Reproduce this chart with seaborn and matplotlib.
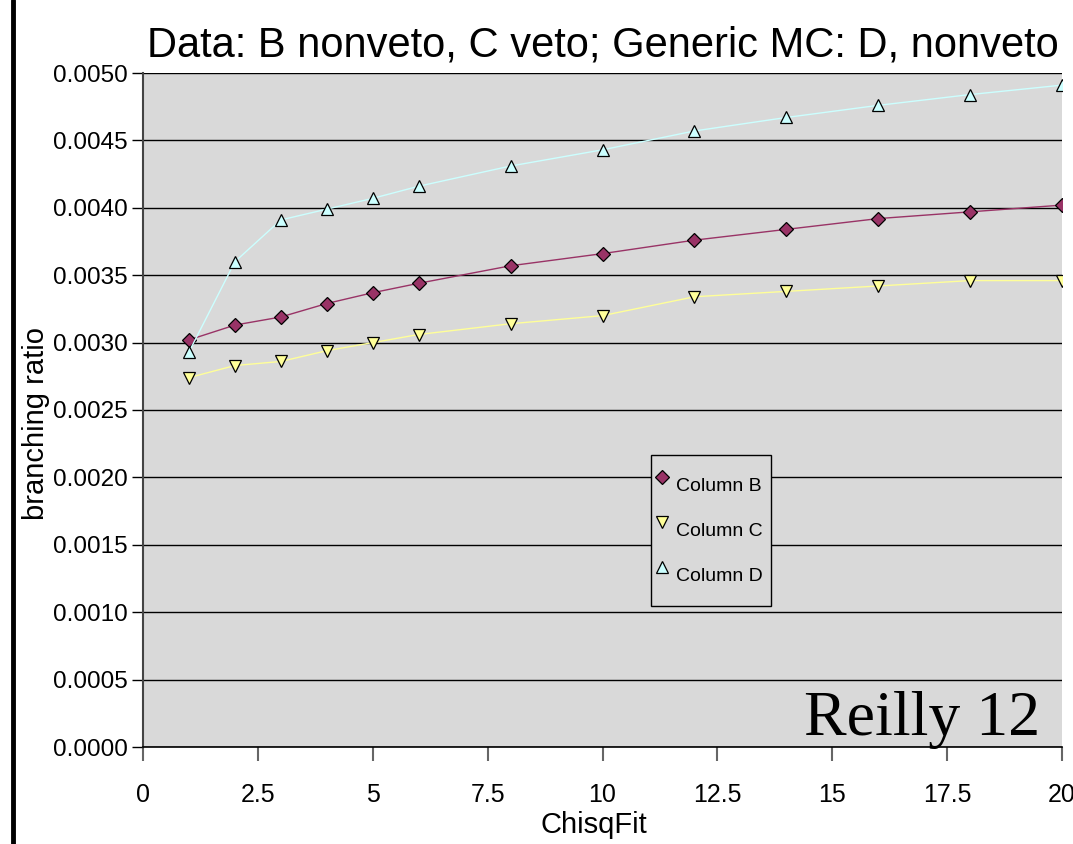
import matplotlib
matplotlib.use("Agg")
import matplotlib.pyplot as plt
import seaborn as sns
import numpy as np
import pandas as pd
from matplotlib.lines import Line2D
from matplotlib.ticker import FormatStrFormatter, MultipleLocator

chisq = [1, 2, 3, 4, 5, 6, 8, 10, 12, 14, 16, 18, 20]
col_b = [0.00302, 0.00313, 0.00319, 0.00329, 0.00337, 0.00344, 0.00357, 0.00366, 0.00376, 0.00384, 0.00392, 0.00397, 0.00402]
col_c = [0.00274, 0.00283, 0.00286, 0.00294, 0.00300, 0.00306, 0.00314, 0.00320, 0.00334, 0.00338, 0.00342, 0.00346, 0.00346]
col_d = [0.00293, 0.00360, 0.00391, 0.00399, 0.00407, 0.00416, 0.00431, 0.00443, 0.00457, 0.00467, 0.00476, 0.00484, 0.00491]
series_names = ["Column B", "Column C", "Column D"]

sns.set_style("white")
plt.rcParams["font.family"] = ["Liberation Sans", "DejaVu Sans"]
plt.rcParams["text.color"] = "black"
plt.rcParams["axes.labelcolor"] = "black"

fig = plt.figure(figsize=(10.73, 8.44), dpi=100)
ax = fig.add_axes([143/1073, 1-747/844, (1062-143)/1073, (747-73)/844])
ax.set_facecolor("#d9d9d9")

styles = {
    "Column B": dict(marker="D", color="#993366", mfc="#993366", ms=7.5),
    "Column C": dict(marker="v", color="#ffff99", mfc="#ffff99", ms=9),
    "Column D": dict(marker="^", color="#ccffff", mfc="#ccffff", ms=9),
}
for name, vals in zip(series_names, [col_b, col_c, col_d]):
    st = styles[name]
    sns.lineplot(x=chisq, y=vals, ax=ax, color=st["color"], lw=1.0,
                 marker=st["marker"], markersize=st["ms"], markerfacecolor=st["mfc"],
                 markeredgecolor="black", markeredgewidth=0.9, label=name, zorder=3)

ax.set_xlim(0, 20)
ax.set_ylim(0, 0.005)
ax.xaxis.set_major_locator(MultipleLocator(2.5))
ax.xaxis.set_major_formatter(FormatStrFormatter("%g"))
ax.yaxis.set_major_locator(MultipleLocator(0.0005))
ax.yaxis.set_major_formatter(FormatStrFormatter("%.4f"))
ax.grid(axis="y", color="black", lw=1.0, zorder=1)
ax.set_axisbelow(True)
for s in ["top", "right"]:
    ax.spines[s].set_visible(False)
ax.spines["left"].set_color("#444444")
ax.spines["left"].set_linewidth(1.5)
ax.spines["bottom"].set_color("black")
ax.spines["bottom"].set_linewidth(1.2)
ax.tick_params(axis="y", direction="out", length=8, width=1, color="black",
               labelcolor="black", labelsize=17.5, pad=3, left=True)
ax.tick_params(axis="x", direction="out", length=10, width=1.5, color="#666666",
               labelcolor="black", labelsize=18, pad=16, bottom=True)

ax.set_title("Data: B nonveto, C veto; Generic MC: D, nonveto", fontsize=30, pad=12)
ax.set_xlabel("ChisqFit", fontsize=21)
ax.set_ylabel("branching ratio", fontsize=21)
ax.xaxis.set_label_coords((594-143)/919, -(811-747)/674)
ax.yaxis.set_label_coords(-(143-50)/919, (747-423)/674)

leg = ax.legend(loc="upper left", bbox_to_anchor=((651-143)/919, (747-455)/674),
                fontsize=14, frameon=True, fancybox=False, edgecolor="black",
                facecolor="#d9d9d9", framealpha=1, handlelength=0.3, handleheight=3.2,
                handletextpad=0.6, labelspacing=0.0, borderpad=0.4, borderaxespad=0)
leg.get_frame().set_linewidth(1.0)

ax.text((1040-143)/919, (747-735)/674, "Reilly 12", transform=ax.transAxes,
        ha="right", va="baseline", fontsize=46,
        family=["Liberation Serif", "DejaVu Serif"], zorder=5)

fig.add_artist(Line2D([13/1073, 13/1073], [0, 1], transform=fig.transFigure, color="black", lw=3.5))

fig.savefig("out.png", dpi=100)
